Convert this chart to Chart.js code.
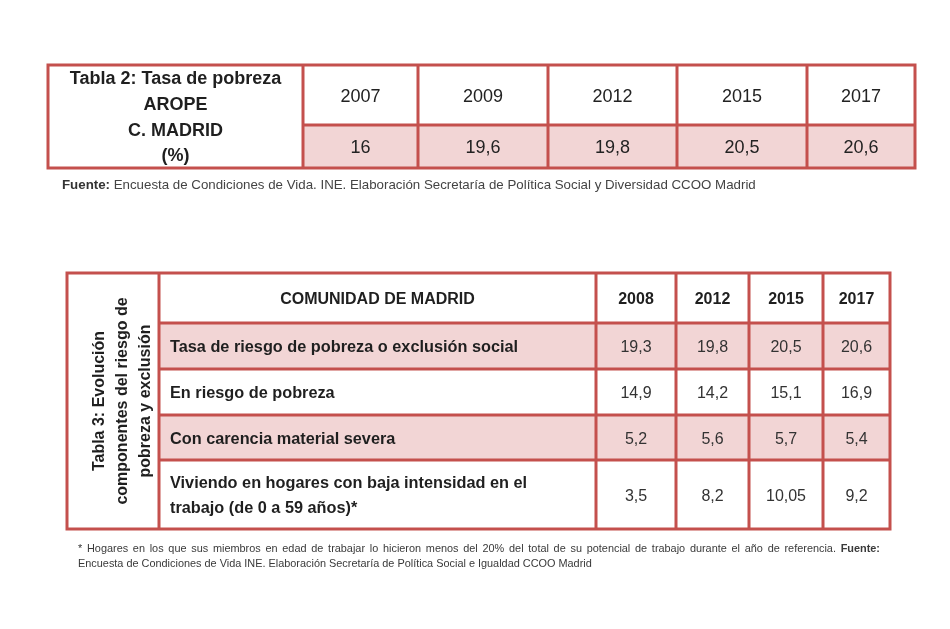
<!DOCTYPE html>
<html>
<head>
<meta charset="utf-8">
<script src="https://cdn.jsdelivr.net/npm/chart.js@4.4.0/dist/chart.umd.min.js"></script>
<style>
  html, body { margin: 0; padding: 0; background: #fff; }
  canvas { display: block; }
</style>
</head>
<body>
<canvas id="tablas" width="950" height="629"></canvas>
<script>
// Tabla 2
const years2 = ['2007', '2009', '2012', '2015', '2017'];
const arope2 = [16, 19.6, 19.8, 20.5, 20.6];

// Tabla 3
const years3 = ['2008', '2012', '2015', '2017'];
const rowLabels3 = [
  ['Tasa de riesgo de pobreza o exclusión social'],
  ['En riesgo de pobreza'],
  ['Con carencia material severa'],
  ['Viviendo en hogares con baja intensidad en el', 'trabajo (de 0 a 59 años)*']
];
const tasaArope3 = [19.3, 19.8, 20.5, 20.6];
const riesgoPobreza3 = [14.9, 14.2, 15.1, 16.9];
const carenciaSevera3 = [5.2, 5.6, 5.7, 5.4];
const bajaIntensidad3 = [3.5, 8.2, 10.05, 9.2];

// layout (scale units)
const t2Cols = [48, 303, 418, 548, 677, 807, 915];
const t2Rows = [65, 125, 168];
const t3Cols = [67, 159, 596, 676, 749, 823, 890];
const t3Rows = [273, 323, 369, 415, 460, 529];

const RED = '#c4504d';
const PINK = '#f2d5d5';
const FONT = '"Liberation Sans", Arial, sans-serif';

function fmt(v) {
  return String(v).replace('.', ',');
}

function justify(ctx, words, x0, x1, y, size) {
  let widths = words.map(w => {
    ctx.font = (w.bold ? 'bold ' : '') + size + 'px ' + FONT;
    return ctx.measureText(w.t).width;
  });
  let total = widths.reduce((a, b) => a + b, 0);
  let gap = (x1 - x0 - total) / (words.length - 1);
  let x = x0;
  words.forEach((w, i) => {
    ctx.font = (w.bold ? 'bold ' : '') + size + 'px ' + FONT;
    ctx.fillText(w.t, x, y);
    x += widths[i] + gap;
  });
}

const tablePlugin = {
  id: 'tablePlugin',
  afterDraw(chart) {
    const ctx = chart.ctx;
    const sx = chart.scales.x, sy = chart.scales.y;
    const X = v => sx.getPixelForValue(v);
    const Y = v => sy.getPixelForValue(v);
    ctx.save();

    // ---------- Tabla 2 ----------
    ctx.fillStyle = PINK;
    ctx.fillRect(X(t2Cols[1]), Y(t2Rows[1]), X(t2Cols[6]) - X(t2Cols[1]), Y(t2Rows[2]) - Y(t2Rows[1]));

    ctx.strokeStyle = RED;
    ctx.lineWidth = 3;
    ctx.strokeRect(X(t2Cols[0]), Y(t2Rows[0]), X(t2Cols[6]) - X(t2Cols[0]), Y(t2Rows[2]) - Y(t2Rows[0]));
    ctx.beginPath();
    for (let i = 1; i < 6; i++) {
      ctx.moveTo(X(t2Cols[i]), Y(t2Rows[0]));
      ctx.lineTo(X(t2Cols[i]), Y(t2Rows[2]));
    }
    ctx.moveTo(X(t2Cols[1]), Y(t2Rows[1]));
    ctx.lineTo(X(t2Cols[6]), Y(t2Rows[1]));
    ctx.stroke();

    ctx.textAlign = 'center';
    ctx.textBaseline = 'middle';
    ctx.fillStyle = '#1f1f1f';
    ctx.font = 'bold 18px ' + FONT;
    const cx2 = X((t2Cols[0] + t2Cols[1]) / 2);
    ctx.fillText('Tabla 2: Tasa de pobreza', cx2, Y(79));
    ctx.fillText('AROPE', cx2, Y(105));
    ctx.fillText('C. MADRID', cx2, Y(131));
    ctx.fillText('(%)', cx2, Y(156));

    ctx.font = '18px ' + FONT;
    ctx.fillStyle = '#222';
    years2.forEach((yr, i) => {
      const cx = X((t2Cols[i + 1] + t2Cols[i + 2]) / 2);
      ctx.fillText(yr, cx, Y((t2Rows[0] + t2Rows[1]) / 2 + 2));
      ctx.fillText(fmt(arope2[i]), cx, Y((t2Rows[1] + t2Rows[2]) / 2 + 2));
    });

    ctx.textAlign = 'left';
    ctx.fillStyle = '#333';
    ctx.font = 'bold 13.3px ' + FONT;
    ctx.fillText('Fuente:', X(62), Y(185));
    const fw = ctx.measureText('Fuente: ').width;
    ctx.font = '13.3px ' + FONT;
    ctx.fillStyle = '#444';
    ctx.fillText('Encuesta de Condiciones de Vida. INE. Elaboración Secretaría de Política Social y Diversidad CCOO Madrid', X(62) + fw, Y(185));

    // ---------- Tabla 3 ----------
    const seriesRows = [tasaArope3, riesgoPobreza3, carenciaSevera3, bajaIntensidad3];
    ctx.fillStyle = PINK;
    [0, 2].forEach(r => {
      ctx.fillRect(X(t3Cols[1]), Y(t3Rows[r + 1]), X(t3Cols[6]) - X(t3Cols[1]), Y(t3Rows[r + 2]) - Y(t3Rows[r + 1]));
    });

    ctx.strokeStyle = RED;
    ctx.lineWidth = 3;
    ctx.strokeRect(X(t3Cols[0]), Y(t3Rows[0]), X(t3Cols[6]) - X(t3Cols[0]), Y(t3Rows[5]) - Y(t3Rows[0]));
    ctx.beginPath();
    for (let i = 1; i < 6; i++) {
      ctx.moveTo(X(t3Cols[i]), Y(t3Rows[0]));
      ctx.lineTo(X(t3Cols[i]), Y(t3Rows[5]));
    }
    for (let r = 1; r < 5; r++) {
      ctx.moveTo(X(t3Cols[1]), Y(t3Rows[r]));
      ctx.lineTo(X(t3Cols[6]), Y(t3Rows[r]));
    }
    ctx.stroke();

    // vertical title
    ctx.save();
    ctx.translate(0, Y((t3Rows[0] + t3Rows[5]) / 2));
    ctx.rotate(-Math.PI / 2);
    ctx.textAlign = 'center';
    ctx.textBaseline = 'middle';
    ctx.fillStyle = '#1f1f1f';
    ctx.font = 'bold 16px ' + FONT;
    ctx.fillText('Tabla 3: Evolución', 0, X(100));
    ctx.fillText('componentes del riesgo de', 0, X(123));
    ctx.fillText('pobreza y exclusión', 0, X(146));
    ctx.restore();

    ctx.textAlign = 'center';
    ctx.textBaseline = 'middle';
    ctx.fillStyle = '#1f1f1f';
    ctx.font = 'bold 16px ' + FONT;
    const hy = Y((t3Rows[0] + t3Rows[1]) / 2 + 2);
    ctx.fillText('COMUNIDAD DE MADRID', X((t3Cols[1] + t3Cols[2]) / 2), hy);
    years3.forEach((yr, i) => {
      ctx.fillText(yr, X((t3Cols[i + 2] + t3Cols[i + 3]) / 2), hy);
    });

    rowLabels3.forEach((lines, r) => {
      const top = t3Rows[r + 1], bot = t3Rows[r + 2];
      const mid = (top + bot) / 2 + 2;
      ctx.textAlign = 'left';
      ctx.fillStyle = '#1f1f1f';
      ctx.font = 'bold 16.3px ' + FONT;
      lines.forEach((ln, k) => {
        const off = (k - (lines.length - 1) / 2) * 25;
        ctx.fillText(ln, X(170), Y(mid + off));
      });
      ctx.textAlign = 'center';
      ctx.fillStyle = '#333';
      ctx.font = '16px ' + FONT;
      seriesRows[r].forEach((v, i) => {
        ctx.fillText(fmt(v), X((t3Cols[i + 2] + t3Cols[i + 3]) / 2), Y(mid));
      });
    });

    // footnote
    ctx.textAlign = 'left';
    ctx.fillStyle = '#3a3a3a';
    const line1 = '* Hogares en los que sus miembros en edad de trabajar lo hicieron menos del 20% del total de su potencial de trabajo durante el año de referencia.'
      .split(' ').map(t => ({ t: t, bold: false }));
    line1.push({ t: 'Fuente:', bold: true });
    justify(ctx, line1, X(78), X(880), Y(549), 10.9);
    ctx.font = '10.9px ' + FONT;
    ctx.fillText('Encuesta de Condiciones de Vida INE. Elaboración Secretaría de Política Social e Igualdad CCOO Madrid', X(78), Y(564));

    ctx.restore();
  }
};

new Chart(document.getElementById('tablas'), {
  type: 'scatter',
  data: { datasets: [{ data: [] }] },
  options: {
    responsive: false,
    animation: false,
    layout: { padding: 0 },
    plugins: { legend: { display: false }, tooltip: { enabled: false } },
    scales: {
      x: { type: 'linear', min: 0, max: 950, display: false },
      y: { type: 'linear', min: 0, max: 629, reverse: true, display: false }
    }
  },
  plugins: [tablePlugin]
});
</script>
</body>
</html>
